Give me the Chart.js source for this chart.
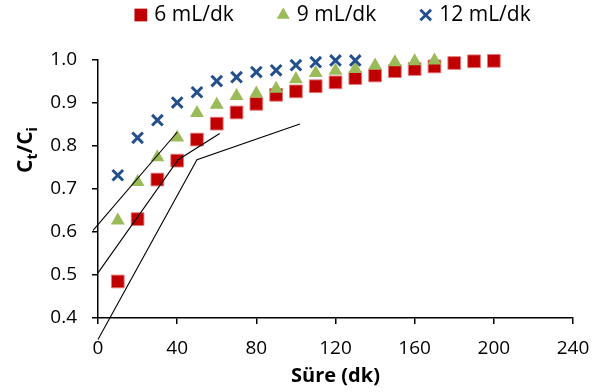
<!DOCTYPE html>
<html>
<head>
<meta charset="utf-8">
<script src="https://cdn.jsdelivr.net/npm/chart.js@4.4.0/dist/chart.umd.min.js"></script>
<style>
  html, body { margin: 0; padding: 0; background: #fff; }
  #grafico { display: block; }
</style>
</head>
<body>
<canvas id="grafico" width="603" height="392"></canvas>
<script>
// Süre (dk) ve Ct/Ci değerleri, her akış hızı için
const sure6 = [10, 20, 30, 40, 50, 60, 70, 80, 90, 100, 110, 120, 130, 140, 150, 160, 170, 180, 190, 200];
const oran6 = [0.485, 0.63, 0.722, 0.766, 0.815, 0.852, 0.878, 0.898, 0.919, 0.927, 0.939, 0.948, 0.958, 0.964, 0.974, 0.979, 0.985, 0.993, 0.997, 0.998];

const sure9 = [10, 20, 30, 40, 50, 60, 70, 80, 90, 100, 110, 120, 130, 140, 150, 160, 170];
const oran9 = [0.627, 0.716, 0.774, 0.82, 0.877, 0.896, 0.916, 0.922, 0.933, 0.955, 0.97, 0.975, 0.979, 0.987, 0.995, 0.997, 0.999];

const sure12 = [10, 20, 30, 40, 50, 60, 70, 80, 90, 100, 110, 120, 130];
const oran12 = [0.732, 0.819, 0.86, 0.901, 0.925, 0.951, 0.96, 0.972, 0.976, 0.988, 0.995, 0.999, 0.999];

// Teğet çizgileri (kırılma noktaları)
const teget1X = [-2.5, 40];
const teget1Y = [0.604, 0.832];
const teget2X = [0, 40.5, 61.5];
const teget2Y = [0.505, 0.768, 0.829];
const teget3X = [0, 50, 102];
const teget3Y = [0.35, 0.768, 0.851];

const etiketler = ['6 mL/dk', '9 mL/dk', '12 mL/dk'];
const xTicks = [0, 40, 80, 120, 160, 200, 240];
const yTicks = [0.4, 0.5, 0.6, 0.7, 0.8, 0.9, 1.0];

const KIRMIZI = '#C00000';
const YESIL = '#9BBB59';
const MAVI = '#23508C';

Chart.defaults.font.family = '"Open Sans", sans-serif';
Chart.defaults.font.size = 19;
Chart.defaults.color = '#000';

function noktalar(xs, ys) {
    return xs.map((x, i) => ({ x: x, y: ys[i] }));
}

function tegetSeti(xs, ys) {
    return {
        data: noktalar(xs, ys),
        showLine: true,
        borderColor: '#000',
        borderWidth: 1.1,
        pointRadius: 0,
        pointHoverRadius: 0,
        clip: false,
        order: 1,
        legendeYok: true
    };
}

// Ct/Ci başlığı (alt indisli)
const yBaslik = {
    id: 'yBaslik',
    afterDraw(chart) {
        const ctx = chart.ctx;
        const parcalar = [
            { t: 'C', alt: false }, { t: 't', alt: true },
            { t: '/C', alt: false }, { t: 'i', alt: true }
        ];
        const buyuk = 'bold 21px "Open Sans"';
        const kucuk = 'bold 14px "Open Sans"';
        ctx.save();
        let toplam = 0;
        parcalar.forEach(p => {
            ctx.font = p.alt ? kucuk : buyuk;
            p.w = ctx.measureText(p.t).width;
            toplam += p.w;
        });
        ctx.translate(32, 150);
        ctx.rotate(-Math.PI / 2);
        ctx.fillStyle = '#000';
        ctx.textBaseline = 'alphabetic';
        let x = -toplam / 2;
        parcalar.forEach(p => {
            ctx.font = p.alt ? kucuk : buyuk;
            ctx.fillText(p.t, x, p.alt ? 5 : 0);
            x += p.w;
        });
        ctx.restore();
    }
};

// Üstteki lejant
const lejant = {
    id: 'lejant',
    afterDraw(chart) {
        const ctx = chart.ctx;
        const area = chart.chartArea;
        const setler = chart.data.datasets.filter(d => !d.legendeYok);
        ctx.save();
        ctx.font = '21px "Open Sans"';
        const kutu = 13, bosluk = 7, ara = 43;
        const genislikler = setler.map(d => ctx.measureText(d.label).width);
        let toplam = 0;
        genislikler.forEach((w, i) => { toplam += kutu + bosluk + w + (i > 0 ? ara : 0); });
        let x = (area.left + area.right) / 2 - toplam / 2 - 3;
        const y = 15;
        setler.forEach((d, i) => {
            ctx.fillStyle = d.backgroundColor;
            ctx.strokeStyle = d.borderColor;
            ctx.lineWidth = d.pointStyle === 'crossRot' ? 3 : 0;
            Chart.helpers.drawPoint(ctx, {
                pointStyle: d.pointStyle,
                radius: d.pointStyle === 'rect' ? 9 : 7.5,
                rotation: 0,
                borderWidth: d.pointStyle === 'crossRot' ? 3 : 0
            }, x + kutu / 2, y);
            ctx.fillStyle = '#000';
            ctx.textBaseline = 'middle';
            ctx.textAlign = 'left';
            ctx.fillText(d.label, x + kutu + bosluk, y);
            x += kutu + bosluk + genislikler[i] + ara;
        });
        ctx.restore();
    }
};

const ctx = document.getElementById('grafico').getContext('2d');
const grafik = new Chart(ctx, {
    type: 'scatter',
    data: {
        datasets: [
            {
                label: etiketler[0],
                data: noktalar(sure6, oran6),
                pointStyle: 'rect',
                pointRadius: 9,
                backgroundColor: KIRMIZI,
                borderColor: 'rgba(230,120,120,0.9)',
                borderWidth: 1,
                clip: false,
                order: 4
            },
            {
                label: etiketler[1],
                data: noktalar(sure9, oran9),
                pointStyle: 'triangle',
                pointRadius: 8,
                backgroundColor: YESIL,
                borderColor: YESIL,
                borderWidth: 0,
                clip: false,
                order: 3
            },
            {
                label: etiketler[2],
                data: noktalar(sure12, oran12),
                pointStyle: 'crossRot',
                pointRadius: 7.5,
                backgroundColor: MAVI,
                borderColor: MAVI,
                borderWidth: 3,
                clip: false,
                order: 2
            },
            tegetSeti(teget1X, teget1Y),
            tegetSeti(teget2X, teget2Y),
            tegetSeti(teget3X, teget3Y)
        ]
    },
    options: {
        responsive: false,
        animation: false,
        devicePixelRatio: 1,
        layout: { padding: { top: 60, right: 30, left: 0, bottom: 0 } },
        plugins: {
            legend: { display: false },
            tooltip: { enabled: false }
        },
        scales: {
            x: {
                type: 'linear',
                position: 'bottom',
                min: 0,
                max: 240,
                afterBuildTicks: s => { s.ticks = xTicks.map(v => ({ value: v })); },
                afterFit: s => { s.height = 74; },
                grid: { drawOnChartArea: false, drawTicks: true, tickLength: 6, color: '#000', lineWidth: 1.5 },
                border: { display: true, color: '#000', width: 1.5 },
                ticks: { padding: 13, color: '#000' },
                title: {
                    display: true,
                    text: 'Süre (dk)',
                    font: { weight: 'bold', size: 20 },
                    padding: { top: 0, bottom: 4 },
                    color: '#000'
                }
            },
            y: {
                type: 'linear',
                min: 0.4,
                max: 1.0,
                afterBuildTicks: s => { s.ticks = yTicks.map(v => ({ value: v })); },
                afterFit: s => { s.width = 98; },
                grid: { drawOnChartArea: false, drawTicks: true, tickLength: 6, color: '#000', lineWidth: 1.5 },
                border: { display: true, color: '#000', width: 1.5 },
                ticks: { padding: 15, color: '#000', callback: v => v.toFixed(1) }
            }
        }
    },
    plugins: [yBaslik, lejant]
});
</script>
</body>
</html>
